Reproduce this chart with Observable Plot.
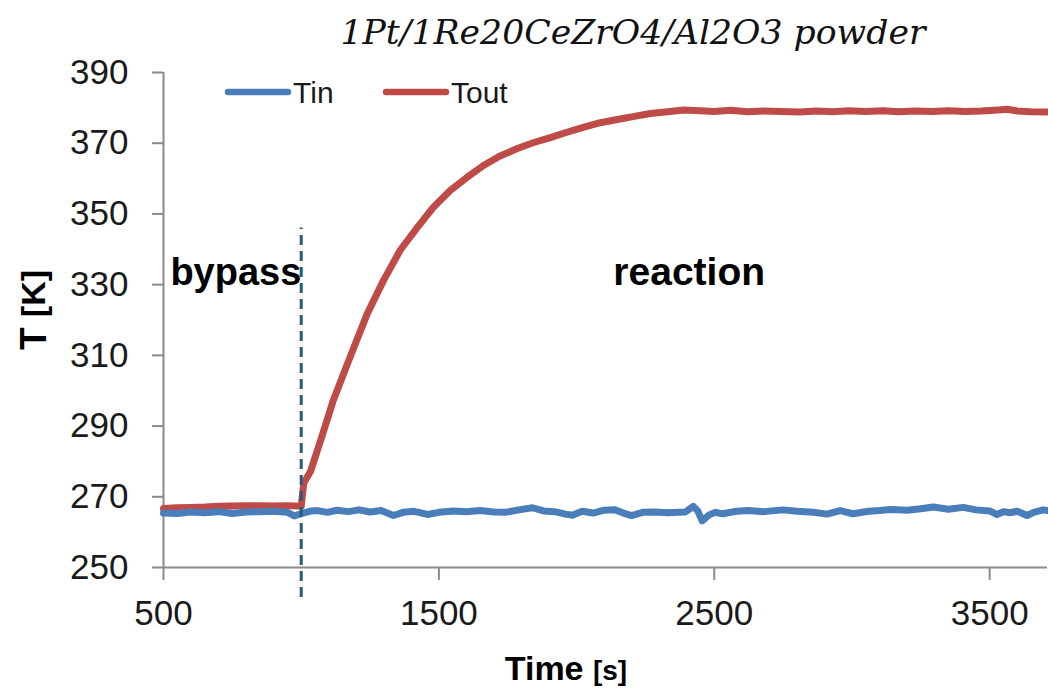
<!DOCTYPE html>
<html>
<head>
<meta charset="utf-8">
<script src="https://cdn.jsdelivr.net/npm/d3@7"></script>
<script src="https://cdn.jsdelivr.net/npm/@observablehq/plot@0.6"></script>
<style>
  body { margin: 0; background: #fff; }
  #wrap { position: relative; width: 1048px; height: 689px; overflow: hidden; background: #fff; }
</style>
</head>
<body>
<div id="wrap"></div>
<script>
// ---------- data ----------
const titleText = "1Pt/1Re20CeZrO4/Al2O3 powder";
const seriesNames = ["Tin", "Tout"];
const xTicks = [500, 1500, 2500, 3500];
const yTicks = [250, 270, 290, 310, 330, 350, 370, 390];
const phaseBoundary = [1000];
const annotationLabels = ["bypass", "reaction"];
const annotationTime = [525, 2409];
const annotationTemp = [333.3, 333.3];

const tinTime = [500, 550, 600, 650, 700, 750, 800, 850, 900, 950, 975, 1000, 1030, 1060, 1095, 1130, 1170, 1210, 1250, 1290, 1335, 1370, 1410, 1458, 1500, 1553, 1600, 1650, 1700, 1741, 1790, 1840, 1880, 1920, 1960, 1985, 2020, 2060, 2100, 2140, 2170, 2200, 2240, 2285, 2330, 2370, 2395, 2424, 2440, 2456, 2480, 2503, 2530, 2580, 2624, 2680, 2750, 2800, 2860, 2910, 2957, 3004, 3060, 3100, 3139, 3200, 3250, 3295, 3350, 3404, 3450, 3500, 3527, 3550, 3574, 3600, 3636, 3660, 3694, 3710];
const tinTemp = [265.4, 265.3, 265.7, 265.5, 265.8, 265.3, 265.7, 265.8, 265.9, 265.6, 264.6, 265.2, 265.9, 266.1, 265.6, 266.2, 265.8, 266.3, 265.7, 266.1, 264.7, 265.6, 265.9, 265.0, 265.6, 266.0, 265.8, 266.1, 265.7, 265.6, 266.3, 266.9, 266.0, 265.8, 265.1, 264.8, 265.9, 265.4, 266.2, 266.3, 265.4, 264.7, 265.6, 265.7, 265.5, 265.6, 265.7, 267.3, 266.0, 263.2, 264.8, 265.6, 265.2, 265.9, 266.1, 265.8, 266.3, 265.9, 265.6, 265.1, 266.1, 265.2, 265.9, 266.1, 266.4, 266.2, 266.6, 267.1, 266.5, 267.0, 266.3, 266.0, 265.0, 265.8, 265.5, 265.9, 264.7, 265.6, 266.3, 266.1];

const toutTime = [500, 550, 600, 650, 700, 750, 800, 850, 900, 950, 1000, 1005, 1010, 1034, 1075, 1117, 1179, 1240, 1299, 1360, 1422, 1480, 1542, 1603, 1662, 1720, 1785, 1845, 1905, 1965, 2024, 2086, 2148, 2210, 2268, 2330, 2390, 2450, 2500, 2560, 2620, 2680, 2740, 2812, 2870, 2930, 2990, 3050, 3113, 3170, 3230, 3290, 3350, 3410, 3470, 3530, 3564, 3600, 3650, 3710];
const toutTemp = [266.7, 266.9, 267.0, 267.1, 267.3, 267.4, 267.5, 267.5, 267.4, 267.5, 267.3, 271.0, 274.0, 277.2, 287.0, 297.4, 309.8, 321.8, 331.2, 339.8, 346.2, 351.9, 356.7, 360.4, 363.7, 366.3, 368.5, 370.2, 371.6, 373.1, 374.5, 375.8, 376.7, 377.6, 378.4, 378.9, 379.4, 379.2, 379.0, 379.3, 378.9, 379.1, 379.0, 378.8, 379.1, 378.9, 379.2, 379.0, 379.2, 378.9, 379.1, 379.0, 379.2, 379.0, 379.1, 379.4, 379.6, 379.1, 378.9, 378.8];

// ---------- tables built from the arrays ----------
const tinData = tinTime.map((t, i) => ({t, T: tinTemp[i]}));
const toutData = toutTime.map((t, i) => ({t, T: toutTemp[i]}));
const annData = annotationLabels.map((label, i) => ({label, t: annotationTime[i], T: annotationTemp[i]}));

const colors = {Tin: "#4a7ebb", Tout: "#be4b48"};
const axisGray = "#8a8a8a";
const sans = "'Liberation Sans', Arial, sans-serif";

const chart = Plot.plot({
  width: 1048,
  height: 689,
  marginLeft: 163,
  marginRight: 1,
  marginTop: 72,
  marginBottom: 122,
  style: {fontFamily: sans, background: "#fff", color: "#1a1a1a", overflow: "visible"},
  x: {domain: [500, 3710], label: null},
  y: {domain: [250, 390], label: null},
  marks: [
    Plot.axisX({ticks: xTicks, tickSize: 13, tickPadding: 20, fontSize: 35, stroke: axisGray, strokeWidth: 2, fill: "#1a1a1a", label: null, tickFormat: d => String(d)}),
    Plot.axisY({ticks: yTicks, tickSize: 11, tickPadding: 24, fontSize: 35, stroke: axisGray, strokeWidth: 2, fill: "#1a1a1a", label: null, tickFormat: d => String(d)}),
    Plot.ruleY([250], {stroke: axisGray, strokeWidth: 2}),
    Plot.ruleX([500], {stroke: axisGray, strokeWidth: 2}),
    Plot.line(toutData, {x: "t", y: "T", stroke: colors.Tout, strokeWidth: 7, curve: "linear"}),
    Plot.line(tinData, {x: "t", y: "T", stroke: colors.Tin, strokeWidth: 7, curve: "linear"}),
    Plot.ruleX(phaseBoundary, {y1: 241.5, y2: 346, stroke: "#1d5e7e", strokeWidth: 3, strokeDasharray: "10,6"}),
    Plot.text(annData.slice(0, 1), {x: "t", y: "T", text: "label", textAnchor: "start", fontSize: 38, fontWeight: "bold", fill: "#000"}),
    Plot.text(annData.slice(1), {x: "t", y: "T", text: "label", textAnchor: "middle", fontSize: 39, fontWeight: "bold", fill: "#000"})
  ]
});
document.getElementById("wrap").appendChild(chart);

// ---------- title, legend, axis labels ----------
const svg = d3.select(chart);
svg.append("text")
  .attr("x", 633).attr("y", 44)
  .attr("text-anchor", "middle")
  .attr("font-family", "'DejaVu Serif', 'Liberation Serif', serif")
  .attr("font-style", "italic")
  .attr("font-size", 34)
  .attr("fill", "#111")
  .attr("textLength", 585)
  .attr("lengthAdjust", "spacingAndGlyphs")
  .text(titleText);

const legendX = [228, 386];
seriesNames.forEach((name, i) => {
  const g = svg.append("g");
  g.append("line")
    .attr("x1", legendX[i]).attr("x2", legendX[i] + 60)
    .attr("y1", 92).attr("y2", 92)
    .attr("stroke", colors[name]).attr("stroke-width", 6.5).attr("stroke-linecap", "round");
  g.append("text")
    .attr("x", legendX[i] + 65).attr("y", 103)
    .attr("text-anchor", "start")
    .attr("font-family", sans).attr("font-size", 30).attr("fill", "#1a1a1a")
    .text(name);
});

const yl = svg.append("text")
  .attr("transform", "translate(33,310) rotate(-90)")
  .attr("text-anchor", "middle")
  .attr("dominant-baseline", "central")
  .attr("font-family", sans).attr("font-weight", "bold").attr("fill", "#000");
yl.append("tspan").attr("font-size", 37).text("T ");
yl.append("tspan").attr("font-size", 34).text("[K]");

const xl = svg.append("text")
  .attr("x", 566).attr("y", 680)
  .attr("text-anchor", "middle")
  .attr("font-family", sans).attr("font-weight", "bold").attr("fill", "#000");
xl.append("tspan").attr("font-size", 34).text("Time ");
xl.append("tspan").attr("font-size", 28).text("[s]");
</script>
</body>
</html>
